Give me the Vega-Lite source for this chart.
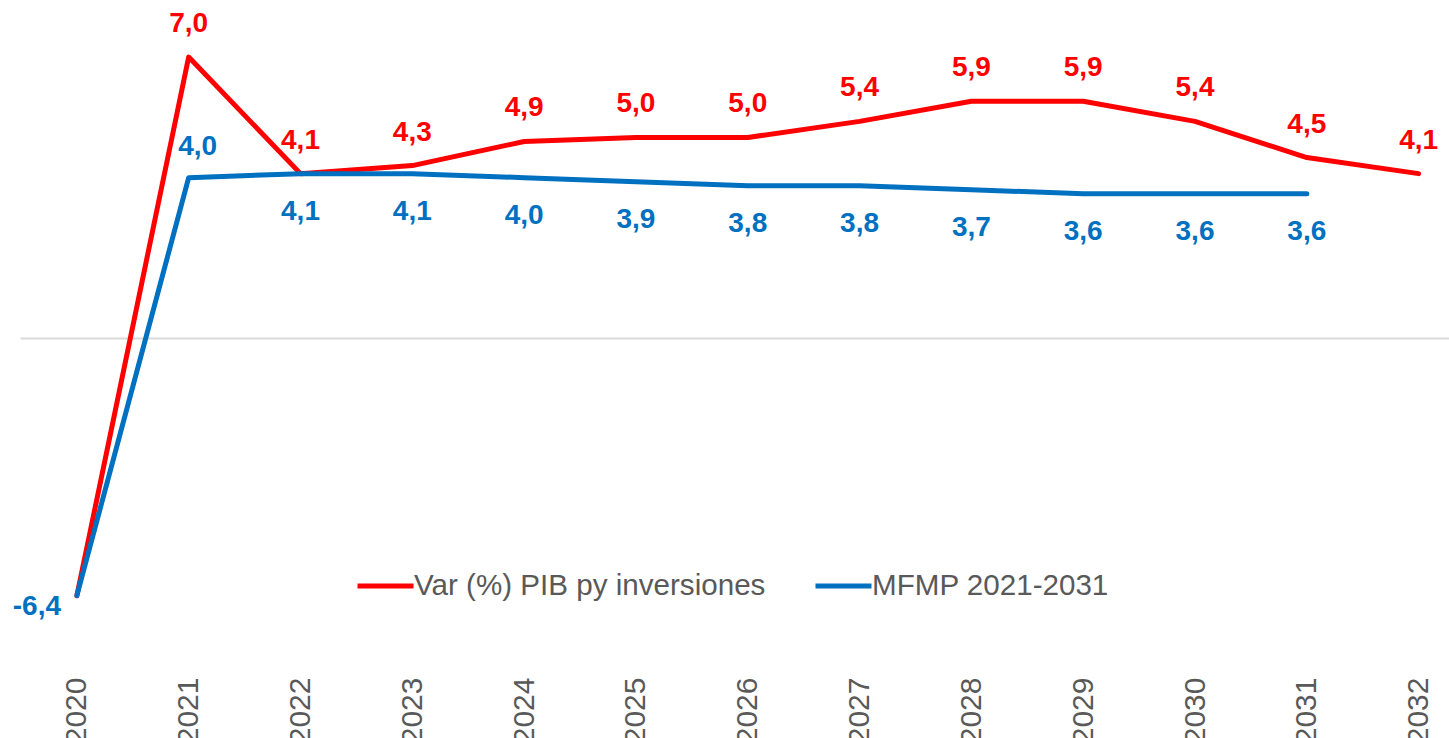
{
  "$schema": "https://vega.github.io/schema/vega-lite/v6.json",
  "autosize": {"type": "none"},
  "width": 1429,
  "height": 660,
  "padding": {"left": 20, "top": 0, "right": 0, "bottom": 78},
  "background": "white",
  "config": {
    "view": {"stroke": null},
    "font": "Liberation Sans",
    "locale": {"number": {"decimal": ",", "thousands": ".", "grouping": [3], "currency": ["", ""], "minus": "-"}}
  },
  "data": {"values": [
    {"anio": "2020", "serie": "Var (%) PIB py inversiones", "valor": -6.4},
    {"anio": "2021", "serie": "Var (%) PIB py inversiones", "valor": 7.0},
    {"anio": "2022", "serie": "Var (%) PIB py inversiones", "valor": 4.1},
    {"anio": "2023", "serie": "Var (%) PIB py inversiones", "valor": 4.3},
    {"anio": "2024", "serie": "Var (%) PIB py inversiones", "valor": 4.9},
    {"anio": "2025", "serie": "Var (%) PIB py inversiones", "valor": 5.0},
    {"anio": "2026", "serie": "Var (%) PIB py inversiones", "valor": 5.0},
    {"anio": "2027", "serie": "Var (%) PIB py inversiones", "valor": 5.4},
    {"anio": "2028", "serie": "Var (%) PIB py inversiones", "valor": 5.9},
    {"anio": "2029", "serie": "Var (%) PIB py inversiones", "valor": 5.9},
    {"anio": "2030", "serie": "Var (%) PIB py inversiones", "valor": 5.4},
    {"anio": "2031", "serie": "Var (%) PIB py inversiones", "valor": 4.5},
    {"anio": "2032", "serie": "Var (%) PIB py inversiones", "valor": 4.1},
    {"anio": "2020", "serie": "MFMP 2021-2031", "valor": -6.4},
    {"anio": "2021", "serie": "MFMP 2021-2031", "valor": 4.0},
    {"anio": "2022", "serie": "MFMP 2021-2031", "valor": 4.1},
    {"anio": "2023", "serie": "MFMP 2021-2031", "valor": 4.1},
    {"anio": "2024", "serie": "MFMP 2021-2031", "valor": 4.0},
    {"anio": "2025", "serie": "MFMP 2021-2031", "valor": 3.9},
    {"anio": "2026", "serie": "MFMP 2021-2031", "valor": 3.8},
    {"anio": "2027", "serie": "MFMP 2021-2031", "valor": 3.8},
    {"anio": "2028", "serie": "MFMP 2021-2031", "valor": 3.7},
    {"anio": "2029", "serie": "MFMP 2021-2031", "valor": 3.6},
    {"anio": "2030", "serie": "MFMP 2021-2031", "valor": 3.6},
    {"anio": "2031", "serie": "MFMP 2021-2031", "valor": 3.6}
  ]},
  "encoding": {
    "x": {
      "field": "anio", "type": "ordinal",
      "scale": {"type": "point", "padding": 0.39, "align": 0.652},
      "axis": {"title": null, "labelAngle": -90, "labelFontSize": 30, "labelColor": "#595959", "labelFont": "Liberation Sans", "ticks": false, "domain": false, "grid": false, "labelPadding": 17}
    },
    "y": {
      "field": "valor", "type": "quantitative",
      "scale": {"domain": [-8, 8.42], "nice": false, "zero": false},
      "axis": {"title": null, "values": [0], "grid": true, "gridColor": "#D9D9D9", "gridWidth": 2, "labels": false, "ticks": false, "domain": false}
    }
  },
  "layer": [
    {
      "transform": [{"filter": "datum.serie == 'Var (%) PIB py inversiones'"}],
      "mark": {"type": "line", "strokeWidth": 5, "strokeCap": "round", "strokeJoin": "round"},
      "encoding": {
        "color": {
          "field": "serie", "type": "nominal",
          "scale": {"domain": ["Var (%) PIB py inversiones", "MFMP 2021-2031"], "range": ["#FF0000", "#0070C0"]},
          "legend": {"title": null, "orient": "none", "legendX": 335, "legendY": 555, "direction": "horizontal", "symbolType": "stroke", "symbolSize": 3136, "symbolStrokeWidth": 5, "labelFontSize": 29.6, "labelColor": "#595959", "labelFont": "Liberation Sans", "labelOffset": -2, "columnPadding": 39, "labelLimit": 1000}
        }
      }
    },
    {
      "transform": [{"filter": "datum.serie == 'MFMP 2021-2031'"}],
      "mark": {"type": "line", "strokeWidth": 5, "strokeCap": "round", "strokeJoin": "round"},
      "encoding": {
        "color": {"field": "serie", "type": "nominal"}
      }
    },
    {
      "transform": [{"filter": "datum.serie == 'Var (%) PIB py inversiones' && datum.anio != '2020'"}],
      "mark": {"type": "text", "fontSize": 28, "fontWeight": "bold", "color": "#FF0000", "baseline": "middle", "align": "center", "dy": -33},
      "encoding": {"text": {"field": "valor", "type": "quantitative", "format": ".1f"}}
    },
    {
      "transform": [{"filter": "datum.serie == 'MFMP 2021-2031' && datum.anio != '2020' && datum.anio != '2021'"}],
      "mark": {"type": "text", "fontSize": 28, "fontWeight": "bold", "color": "#0070C0", "baseline": "middle", "align": "center", "dy": 38},
      "encoding": {"text": {"field": "valor", "type": "quantitative", "format": ".1f"}}
    },
    {
      "transform": [{"filter": "datum.serie == 'MFMP 2021-2031' && datum.anio == '2021'"}],
      "mark": {"type": "text", "fontSize": 28, "fontWeight": "bold", "color": "#0070C0", "baseline": "middle", "align": "center", "dx": 9, "dy": -31},
      "encoding": {"text": {"field": "valor", "type": "quantitative", "format": ".1f"}}
    },
    {
      "transform": [{"filter": "datum.serie == 'MFMP 2021-2031' && datum.anio == '2020'"}],
      "mark": {"type": "text", "fontSize": 28, "fontWeight": "bold", "color": "#0070C0", "baseline": "middle", "align": "center", "dx": -40, "dy": 11},
      "encoding": {"text": {"field": "valor", "type": "quantitative", "format": ".1f"}}
    }
  ]
}
